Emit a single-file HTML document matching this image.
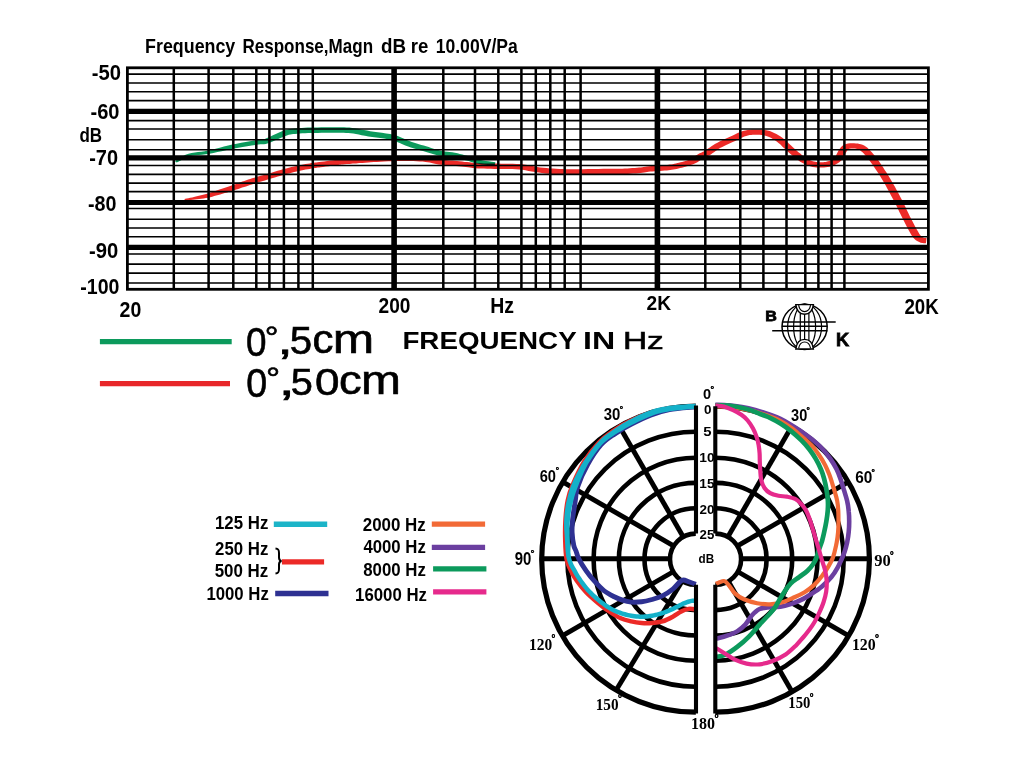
<!DOCTYPE html>
<html lang="en"><head><meta charset="utf-8"><title>Frequency Response and Polar Pattern</title>
<style>
html,body{margin:0;padding:0;background:#fff;}
body{width:1024px;height:769px;overflow:hidden;}
svg{display:block;}
text{font-family:"Liberation Sans",sans-serif;fill:#000;}
.b{font-weight:bold;}
.serif{font-family:"Liberation Serif",serif;}
</style></head><body>
<svg width="1024" height="769" viewBox="0 0 1024 769">
<rect x="0" y="0" width="1024" height="769" fill="#fff"/>
<g transform="scale(1.50,1)">
<path d="M117.8 162.6L118.8 161.8L120.1 160.7L121.6 159.4L123.3 158.1L125.0 157.0L126.7 156.1L128.5 155.5L130.4 155.2L132.5 154.9L134.7 154.7L137.1 154.3L139.6 153.8L142.3 153.0L145.0 152.1L147.8 151.2L150.6 150.2L153.3 149.2L156.1 148.4L158.9 147.7L161.8 146.9L164.8 146.2L167.7 145.6L170.2 145.0L172.3 144.5L173.6 144.3L174.4 144.3L175.0 144.3L176.0 144.2L177.2 143.9L178.7 143.2L180.6 142.2L182.8 140.8L185.1 139.2L187.4 137.7L189.5 136.4L191.2 135.4L192.5 134.8L193.6 134.4L194.5 134.2L195.5 134.0L196.7 133.9L198.2 133.7L199.8 133.5L201.5 133.3L203.4 133.2L205.4 133.1L207.5 133.0L209.6 132.9L211.9 132.9L214.3 132.8L216.8 132.8L219.3 132.7L221.7 132.7L223.8 132.7L225.8 132.8L227.5 132.8L229.1 132.8L230.7 132.9L232.2 133.1L233.9 133.3L235.6 133.6L237.3 134.1L239.2 134.6L241.1 135.2L243.3 135.8L245.6 136.4L248.1 137.0L250.8 137.5L253.5 138.0L256.1 138.6L258.6 139.2L260.8 140.0L262.8 140.8L264.7 141.9L266.5 143.1L268.3 144.3L270.2 145.5L272.1 146.6L273.9 147.5L275.6 148.3L277.3 149.0L278.9 149.7L280.4 150.4L282.0 151.1L283.6 151.8L285.2 152.5L286.9 153.3L288.6 154.1L290.3 154.8L292.1 155.4L293.9 155.8L295.7 156.2L297.4 156.4L299.0 156.6L300.6 156.9L302.1 157.2L303.5 157.7L305.1 158.2L306.6 158.8L308.2 159.3L309.7 160.0L311.1 160.5L312.5 161.1L313.7 161.7L315.0 162.3L316.4 162.9L317.8 163.5L319.4 164.0L321.2 164.4L323.2 164.8L325.2 165.1L327.0 165.3L328.6 165.5L329.7 165.7L330.3 162.3L329.2 162.1L327.6 161.7L325.8 161.3L323.9 160.9L322.1 160.5L320.6 160.0L319.3 159.5L318.1 159.0L316.9 158.4L315.6 157.8L314.3 157.1L312.9 156.5L311.4 155.8L309.8 155.2L308.3 154.6L306.6 153.9L305.0 153.3L303.3 152.8L301.5 152.3L299.8 152.0L298.2 151.7L296.6 151.4L295.1 151.0L293.6 150.6L292.1 150.1L290.6 149.4L289.0 148.7L287.4 147.9L285.8 147.1L284.1 146.3L282.5 145.6L280.9 144.9L279.3 144.3L277.8 143.6L276.2 142.8L274.6 142.0L272.9 141.1L271.2 139.9L269.4 138.7L267.4 137.4L265.2 136.1L262.8 135.0L260.1 134.1L257.4 133.4L254.6 132.8L251.8 132.2L249.2 131.7L246.8 131.2L244.7 130.6L242.7 130.0L240.7 129.4L238.8 128.8L236.8 128.3L234.8 127.9L232.9 127.6L231.1 127.4L229.4 127.3L227.6 127.3L225.9 127.3L223.9 127.3L221.7 127.2L219.3 127.2L216.7 127.3L214.2 127.3L211.7 127.4L209.4 127.5L207.3 127.5L205.2 127.6L203.1 127.8L201.1 127.9L199.2 128.1L197.4 128.3L195.9 128.5L194.6 128.8L193.3 129.0L192.0 129.4L190.5 130.0L188.8 130.8L186.8 132.0L184.6 133.5L182.3 135.1L180.0 136.7L178.0 138.0L176.5 139.0L175.5 139.4L175.1 139.6L174.9 139.6L174.2 139.6L173.0 139.7L171.3 140.1L169.2 140.6L166.6 141.3L163.8 142.0L160.8 142.8L157.8 143.7L154.9 144.6L152.1 145.6L149.3 146.6L146.5 147.7L143.8 148.8L141.2 149.8L138.8 150.6L136.5 151.2L134.2 151.7L132.0 152.0L129.9 152.4L127.7 152.9L125.7 153.7L123.7 154.8L121.8 156.2L120.1 157.6L118.6 159.0L117.4 160.2L116.5 161.0Z" fill="#0c9a5c" stroke="none"/>
<path d="M123.2 200.2L123.9 200.2L124.8 200.1L126.0 200.0L127.2 199.9L128.6 199.8L129.9 199.6L131.3 199.3L132.7 199.1L134.2 198.8L135.7 198.4L137.3 198.1L138.8 197.7L140.2 197.2L141.5 196.7L142.8 196.1L144.1 195.6L145.5 195.0L146.8 194.4L148.3 193.7L149.9 193.1L151.5 192.4L153.0 191.6L154.6 190.9L156.1 190.2L157.5 189.6L158.9 188.9L160.2 188.3L161.4 187.6L162.7 187.0L164.0 186.4L165.3 185.7L166.6 185.0L167.9 184.4L169.2 183.7L170.4 183.1L171.7 182.5L172.9 181.9L174.1 181.4L175.3 180.9L176.6 180.4L178.0 179.8L179.5 179.1L181.3 178.3L183.2 177.5L185.2 176.6L187.2 175.7L189.2 174.8L191.0 174.1L192.7 173.4L194.4 172.7L196.1 172.1L197.7 171.6L199.3 171.0L200.8 170.5L202.3 170.1L203.7 169.6L205.1 169.2L206.4 168.9L207.7 168.6L208.9 168.3L209.8 168.0L210.5 167.9L211.2 167.7L211.8 167.6L212.7 167.4L213.8 167.2L215.3 166.9L217.1 166.6L219.1 166.2L221.0 165.8L222.8 165.5L224.3 165.2L225.5 165.0L226.3 164.8L227.0 164.7L227.6 164.6L228.5 164.5L229.7 164.3L231.3 164.1L233.2 163.9L235.2 163.6L237.4 163.4L239.5 163.1L241.6 162.9L243.5 162.7L245.4 162.4L247.2 162.2L249.2 162.0L251.2 161.9L253.5 161.7L256.1 161.5L259.0 161.3L262.0 161.2L265.1 161.0L268.0 160.9L270.7 160.9L273.1 161.0L275.5 161.0L277.7 161.2L279.8 161.4L281.8 161.6L283.6 161.9L285.1 162.2L286.5 162.6L287.8 163.0L289.2 163.5L290.7 164.0L292.3 164.4L294.0 164.8L295.7 165.0L297.4 165.2L299.1 165.4L300.7 165.6L302.3 165.8L304.0 166.0L305.7 166.3L307.4 166.5L309.0 166.8L310.6 167.0L312.0 167.3L313.2 167.5L314.1 167.7L315.0 167.9L316.0 168.1L317.2 168.2L318.7 168.4L320.6 168.5L322.6 168.6L324.8 168.7L327.2 168.8L329.5 168.9L331.9 169.0L334.2 169.1L336.7 169.1L339.2 169.1L341.6 169.1L343.9 169.3L346.1 169.5L348.2 169.8L350.3 170.3L352.4 170.9L354.6 171.5L356.8 172.1L359.1 172.6L361.3 173.0L363.6 173.4L365.8 173.7L368.0 174.0L370.2 174.2L372.5 174.4L374.6 174.5L376.7 174.6L378.7 174.7L380.9 174.7L383.2 174.7L385.8 174.7L388.8 174.6L392.2 174.5L395.7 174.4L399.2 174.3L402.5 174.2L405.3 174.1L407.7 174.1L409.7 174.1L411.6 174.1L413.3 174.1L415.0 174.1L416.8 174.0L418.6 173.9L420.4 173.8L422.2 173.6L423.9 173.4L425.5 173.3L427.0 173.1L428.3 172.8L429.5 172.5L430.5 172.3L431.4 172.0L432.3 171.8L433.4 171.6L434.8 171.4L436.4 171.3L438.1 171.1L439.9 171.0L441.6 170.8L443.1 170.6L444.5 170.4L445.7 170.2L446.8 170.0L447.8 169.8L448.9 169.5L450.0 169.2L451.1 168.9L452.3 168.5L453.4 168.1L454.6 167.7L455.7 167.2L456.9 166.7L458.0 166.2L459.2 165.7L460.4 165.1L461.6 164.5L462.8 163.8L463.9 163.0L464.9 162.2L465.9 161.3L466.6 160.5L467.3 159.7L468.0 159.0L468.6 158.4L469.3 157.8L470.1 157.3L470.9 156.7L471.8 156.0L472.8 155.3L473.9 154.4L474.9 153.3L476.0 152.2L477.1 151.0L478.1 149.9L479.2 148.8L480.3 147.8L481.5 146.9L482.8 145.9L484.1 145.0L485.6 144.0L487.0 143.0L488.5 142.0L490.1 140.9L491.7 139.7L493.2 138.5L494.8 137.5L496.2 136.6L497.4 135.9L498.6 135.5L499.7 135.1L500.7 134.9L501.8 134.8L502.9 134.8L504.1 134.8L505.4 134.8L506.5 134.8L507.7 134.9L508.8 135.1L509.8 135.4L510.8 135.9L511.9 136.5L513.1 137.2L514.2 138.1L515.4 139.2L516.6 140.3L517.8 141.6L519.0 143.0L520.3 144.6L521.5 146.4L522.8 148.3L524.2 150.2L525.5 152.0L526.8 153.7L528.2 155.5L529.5 157.2L530.9 158.8L532.2 160.3L533.5 161.7L534.8 162.8L536.0 163.8L537.2 164.6L538.3 165.4L539.5 165.9L540.7 166.5L541.9 166.9L543.2 167.2L544.5 167.4L545.7 167.6L546.9 167.6L548.1 167.5L549.3 167.4L550.5 167.3L551.8 167.0L553.0 166.7L554.2 166.2L555.4 165.6L556.5 164.9L557.6 164.1L558.5 163.3L559.5 162.3L560.3 161.2L561.2 159.9L561.9 158.5L562.5 156.9L563.1 155.3L563.5 153.8L564.0 152.5L564.4 151.5L564.8 150.6L565.2 149.9L565.5 149.4L565.7 149.1L565.9 149.0L566.1 148.8L566.6 148.7L567.3 148.6L568.2 148.5L569.1 148.5L570.0 148.6L570.7 148.8L571.4 149.0L572.0 149.1L572.3 149.3L572.7 149.6L573.2 150.1L573.9 150.9L574.8 152.0L575.7 153.3L576.7 154.9L577.7 156.8L578.8 158.8L579.9 161.0L581.1 163.4L582.3 166.1L583.6 169.0L585.0 172.0L586.3 175.1L587.6 178.3L588.9 181.6L590.3 185.1L591.6 188.7L592.9 192.3L594.2 195.9L595.4 199.3L596.6 202.5L597.6 205.7L598.6 208.8L599.6 211.9L600.6 215.0L601.6 218.0L602.7 221.2L603.8 224.5L604.9 227.7L606.0 230.8L607.0 233.6L608.0 235.9L608.9 237.7L609.7 239.1L610.6 240.2L611.4 241.0L612.1 241.5L612.8 242.1L613.8 242.7L614.9 243.1L615.9 243.2L616.7 243.2L617.1 243.2L617.3 243.2L617.7 238.0L617.2 237.9L616.7 237.9L616.4 237.9L616.2 237.9L616.1 237.9L615.9 237.7L615.4 237.4L614.9 237.0L614.5 236.6L614.1 236.1L613.5 235.2L612.8 233.7L612.0 231.6L611.0 229.0L609.9 226.0L608.8 222.8L607.7 219.5L606.6 216.4L605.6 213.3L604.6 210.3L603.7 207.2L602.6 204.1L601.6 200.8L600.4 197.5L599.2 194.1L597.9 190.5L596.6 186.8L595.2 183.2L593.9 179.7L592.5 176.3L591.2 173.1L589.8 169.9L588.5 166.8L587.2 163.9L585.9 161.1L584.6 158.6L583.5 156.3L582.3 154.2L581.2 152.3L580.1 150.5L579.1 148.9L578.1 147.5L577.1 146.4L576.1 145.5L575.0 144.7L573.9 144.2L572.9 143.9L571.9 143.6L570.7 143.4L569.4 143.2L568.0 143.2L566.7 143.3L565.3 143.5L564.0 144.0L562.8 144.6L561.9 145.5L561.1 146.4L560.6 147.3L560.1 148.2L559.6 149.3L559.0 150.6L558.5 152.1L558.0 153.6L557.5 155.1L557.1 156.3L556.6 157.3L556.0 158.1L555.5 158.8L554.8 159.5L554.2 160.0L553.5 160.6L552.8 161.0L552.1 161.3L551.4 161.6L550.5 161.9L549.6 162.1L548.7 162.2L547.8 162.3L546.9 162.3L546.0 162.3L545.1 162.2L544.3 162.0L543.5 161.8L542.6 161.5L541.8 161.2L540.9 160.7L540.1 160.2L539.2 159.6L538.3 158.8L537.3 157.9L536.1 156.8L534.9 155.4L533.7 153.8L532.3 152.2L531.0 150.5L529.7 148.8L528.4 147.1L527.2 145.3L525.9 143.4L524.5 141.5L523.2 139.7L521.8 138.0L520.4 136.6L519.0 135.2L517.6 134.0L516.1 132.9L514.7 132.0L513.2 131.1L511.6 130.5L510.0 130.0L508.5 129.7L507.0 129.5L505.5 129.5L504.1 129.4L502.8 129.5L501.4 129.5L499.9 129.7L498.4 130.0L496.9 130.4L495.2 131.1L493.5 132.0L491.8 133.0L490.2 134.2L488.5 135.4L487.0 136.6L485.5 137.6L484.0 138.6L482.6 139.6L481.1 140.6L479.7 141.6L478.3 142.7L476.9 143.8L475.6 145.0L474.3 146.2L473.2 147.4L472.1 148.6L471.2 149.6L470.3 150.4L469.4 151.2L468.6 151.8L467.8 152.4L466.9 153.0L466.1 153.6L465.1 154.4L464.2 155.3L463.4 156.1L462.7 156.9L462.1 157.6L461.4 158.2L460.8 158.8L460.0 159.3L459.0 159.8L458.0 160.4L456.9 160.9L455.8 161.4L454.7 161.9L453.7 162.3L452.6 162.7L451.6 163.1L450.6 163.5L449.6 163.8L448.5 164.2L447.6 164.4L446.6 164.6L445.7 164.8L444.7 165.0L443.7 165.2L442.5 165.4L441.1 165.5L439.4 165.7L437.7 165.8L435.9 165.9L434.2 166.0L432.6 166.2L431.2 166.4L430.1 166.7L429.1 166.9L428.2 167.2L427.2 167.4L426.1 167.5L424.7 167.7L423.2 167.9L421.6 168.1L420.0 168.3L418.2 168.5L416.5 168.6L414.9 168.7L413.3 168.7L411.6 168.7L409.7 168.7L407.6 168.7L405.2 168.7L402.3 168.8L399.0 168.9L395.5 169.0L392.0 169.1L388.6 169.2L385.7 169.3L383.2 169.3L380.9 169.3L378.8 169.3L376.9 169.2L374.9 169.1L372.9 169.0L370.7 168.8L368.6 168.6L366.5 168.4L364.4 168.1L362.2 167.7L360.1 167.4L358.1 166.9L356.0 166.3L353.9 165.7L351.6 165.1L349.3 164.5L346.8 164.1L344.3 163.9L341.8 163.7L339.2 163.7L336.7 163.7L334.3 163.7L332.0 163.6L329.7 163.5L327.3 163.5L325.0 163.4L322.8 163.4L320.8 163.3L319.1 163.2L317.8 163.1L316.8 163.0L315.9 162.9L315.1 162.7L314.0 162.5L312.8 162.3L311.4 162.1L309.8 161.9L308.1 161.6L306.4 161.3L304.7 161.1L303.0 160.8L301.3 160.6L299.6 160.4L298.0 160.2L296.4 160.0L294.8 159.8L293.4 159.6L292.1 159.2L290.8 158.8L289.5 158.3L288.0 157.8L286.3 157.3L284.4 156.9L282.4 156.7L280.3 156.5L278.0 156.3L275.7 156.2L273.2 156.1L270.7 156.1L267.9 156.1L264.9 156.2L261.8 156.3L258.7 156.4L255.8 156.6L253.2 156.7L250.8 156.8L248.7 157.0L246.8 157.2L244.9 157.3L243.0 157.5L241.1 157.7L239.0 157.9L236.8 158.2L234.6 158.4L232.5 158.6L230.6 158.9L229.0 159.1L227.7 159.2L226.8 159.4L226.1 159.5L225.3 159.6L224.5 159.8L223.4 160.0L221.9 160.3L220.0 160.6L218.1 161.0L216.1 161.4L214.3 161.7L212.8 162.0L211.7 162.2L210.8 162.4L210.1 162.5L209.4 162.7L208.5 162.9L207.5 163.1L206.4 163.4L205.1 163.8L203.7 164.1L202.2 164.5L200.7 165.0L199.2 165.5L197.6 166.0L196.0 166.5L194.3 167.1L192.6 167.8L190.8 168.4L189.0 169.1L187.1 169.9L185.1 170.8L183.0 171.7L181.0 172.7L179.1 173.5L177.4 174.3L175.9 174.9L174.5 175.5L173.3 176.0L172.0 176.6L170.8 177.1L169.5 177.7L168.1 178.3L166.8 179.0L165.5 179.6L164.2 180.3L162.9 181.0L161.6 181.6L160.3 182.3L159.0 183.0L157.8 183.7L156.5 184.4L155.2 185.1L153.9 185.8L152.5 186.5L151.0 187.2L149.4 188.0L147.9 188.8L146.3 189.5L144.9 190.2L143.5 190.9L142.2 191.6L141.0 192.2L139.8 192.8L138.6 193.4L137.4 193.9L136.1 194.5L134.7 195.1L133.3 195.6L131.9 196.1L130.5 196.6L129.3 197.0L128.1 197.4L126.8 197.8L125.6 198.2L124.5 198.5L123.6 198.8L123.0 199.0Z" fill="#ec2a27" stroke="none" style="mix-blend-mode:multiply"/>
</g>
<g id="grid" stroke="#000" fill="none" shape-rendering="auto">
<path d="M127.4 74.10H928.4M127.4 83.00H928.4M127.4 91.70H928.4M127.4 100.60H928.4M127.4 120.60H928.4M127.4 129.00H928.4M127.4 139.70H928.4M127.4 149.80H928.4M127.4 165.50H928.4M127.4 174.40H928.4M127.4 183.10H928.4M127.4 191.60H928.4M127.4 208.50H928.4M127.4 219.20H928.4M127.4 228.00H928.4M127.4 236.70H928.4M127.4 254.00H928.4M127.4 264.10H928.4M127.4 273.10H928.4M127.4 283.00H928.4" stroke-width="1.6"/>
<path d="M127.4 111.40H928.4M127.4 157.80H928.4M127.4 202.50H928.4M127.4 247.30H928.4" stroke-width="5.2"/>
<path d="M173.80 67.8V289.3M208.60 67.8V289.3M233.30 67.8V289.3M256.30 67.8V289.3M269.40 67.8V289.3M283.90 67.8V289.3M298.40 67.8V289.3M312.80 67.8V289.3M443.30 67.8V289.3M475.00 67.8V289.3M498.30 67.8V289.3M521.40 67.8V289.3M535.80 67.8V289.3M550.30 67.8V289.3M564.70 67.8V289.3M580.60 67.8V289.3M705.30 67.8V289.3M740.30 67.8V289.3M763.40 67.8V289.3M786.50 67.8V289.3M805.30 67.8V289.3M818.40 67.8V289.3M831.60 67.8V289.3M844.40 67.8V289.3" stroke-width="2.5"/>
<path d="M394.10 67.8V289.3M657.40 67.8V289.3" stroke-width="5.6"/>
<rect x="127.4" y="67.8" width="801.0" height="221.5" stroke-width="2.8"/>
</g>
<path d="M99.9 341.6H231.7" stroke="#0c9a5c" stroke-width="5.4"/>
<path d="M99.9 383.7H230" stroke="#e8272a" stroke-width="5.2"/>
<g id="bk" stroke="#000" fill="none" stroke-width="1.2">
<circle cx="804.6" cy="326.8" r="22.6" stroke-width="1.5"/>
<ellipse cx="804.6" cy="326.8" rx="17.0" ry="22.6"/>
<ellipse cx="804.6" cy="326.8" rx="11.0" ry="22.6"/>
<path d="M800.3 311.8V341.8M804.6 311.8V341.8M808.9 311.8V341.8"/>
<path d="M782 321.9H835.7M782 326.3H827.3M772.2 330.7H827.3" stroke-width="1.5"/>
<path d="M795.8 304.6H813.4C812.6 310.8 809.5 314.2 804.6 314.2C799.7 314.2 796.6 310.8 795.8 304.6Z" fill="#fff" stroke-width="1.4"/>
<path d="M798.6 305.2C799.4 309.6 801.4 311.6 804.6 311.6C807.8 311.6 809.8 309.6 810.6 305.2" stroke-width="1.2"/>
<path d="M795.8 349.0H813.4C812.6 342.8 809.5 339.4 804.6 339.4C799.7 339.4 796.6 342.8 795.8 349.0Z" fill="#fff" stroke-width="1.4"/>
<path d="M798.6 348.4C799.4 344 801.4 342 804.6 342C807.8 342 809.8 344 810.6 348.4" stroke-width="1.2"/>
</g>
<g id="polar" stroke="#000" fill="none" stroke-width="4.9">
<path d="M695.8 533.6A25.8 25.6 0 0 0 695.8 584.8" stroke-width="4.6"/>
<path d="M715.3 533.6A25.8 25.6 0 0 1 715.3 584.8" stroke-width="4.6"/>
<path d="M695.8 508.3A51.3 50.9 0 0 0 695.8 610.1" stroke-width="4.6"/>
<path d="M715.3 508.3A51.3 50.9 0 0 1 715.3 610.1" stroke-width="4.6"/>
<path d="M695.8 482.9A76.9 76.3 0 0 0 695.8 635.5" stroke-width="4.6"/>
<path d="M715.3 482.9A76.9 76.3 0 0 1 715.3 635.5" stroke-width="4.6"/>
<path d="M695.8 457.7A102.2 101.5 0 0 0 695.8 660.7" stroke-width="4.6"/>
<path d="M715.3 457.7A102.2 101.5 0 0 1 715.3 660.7" stroke-width="4.6"/>
<path d="M695.8 431.7A128.4 127.5 0 0 0 695.8 686.7" stroke-width="4.6"/>
<path d="M715.3 431.7A128.4 127.5 0 0 1 715.3 686.7" stroke-width="4.6"/>
<path d="M695.8 406.2A154.1 153.0 0 0 0 695.8 712.2" stroke-width="5.2"/>
<path d="M715.3 406.2A154.1 153.0 0 0 1 715.3 712.2" stroke-width="5.2"/>
<path d="M541.7 558.7H670.2M740.9 558.7H869.4" stroke-width="5.0"/>
<path d="M683.0 536.5L619.2 426.0"/>
<path d="M728.1 536.5L791.9 426.0"/>
<path d="M673.6 545.9L563.1 482.1"/>
<path d="M737.5 545.9L848.0 482.1"/>
<path d="M673.6 571.5L563.1 635.3"/>
<path d="M737.5 571.5L848.0 635.3"/>
<path d="M682.5 580.6L616.4 689.7"/>
<path d="M728.1 580.9L791.9 691.4"/>
</g>
<g fill="none" stroke-linejoin="round">
<path d="M695.8 406.2C691.4 406.6 676.9 407.2 669.3 408.3C661.6 409.4 656.5 410.8 649.9 413.0C643.2 415.1 635.5 418.3 629.4 421.3C623.2 424.3 617.9 427.6 612.9 431.1C607.9 434.6 604.0 437.2 599.2 442.3C594.4 447.4 588.5 454.7 584.1 461.6C579.8 468.5 575.8 477.4 573.1 483.8C570.3 490.2 569.0 494.1 567.8 500.1C566.5 506.0 565.9 513.0 565.5 519.5C565.1 526.0 565.0 532.5 565.2 539.0C565.4 545.5 565.5 553.1 566.5 558.5C567.5 563.9 569.5 567.8 571.3 571.5C573.0 575.2 574.6 577.6 577.0 581.0C579.4 584.4 582.7 588.6 585.9 592.0C589.1 595.4 592.5 598.3 596.3 601.5C600.1 604.7 604.4 608.2 608.5 611.0C612.6 613.8 617.0 616.6 620.8 618.3C624.6 620.0 627.7 620.6 631.2 621.4C634.7 622.2 638.1 622.7 641.6 623.0C645.1 623.3 648.5 623.3 652.0 623.0C655.5 622.7 658.9 622.4 662.4 621.4C665.9 620.4 669.7 618.4 672.8 616.7C675.9 615.1 678.6 612.8 681.2 611.5C683.8 610.2 686.0 609.3 688.4 608.9C690.8 608.5 694.6 609.2 695.8 609.3" stroke="#ec2a27" stroke-width="4.5"/>
<path d="M695.8 406.7C691.4 407.2 677.0 408.1 669.5 409.5C661.9 410.9 657.0 412.6 650.5 415.1C644.1 417.5 636.8 421.2 630.9 424.4C624.9 427.5 619.7 430.5 614.8 433.9C609.8 437.3 605.7 439.6 601.1 444.7C596.6 449.8 591.5 457.6 587.6 464.6C583.7 471.6 579.7 480.7 577.7 486.6C575.6 492.5 576.2 494.5 575.4 500.0C574.6 505.5 573.1 514.1 572.6 519.5C572.1 524.9 571.9 528.2 572.1 532.5C572.3 536.8 573.1 542.4 573.8 545.5C574.4 548.6 575.2 548.8 576.0 551.0C576.8 553.2 577.1 555.5 578.8 558.8C580.5 562.1 583.6 567.1 586.2 570.8C588.8 574.5 591.5 577.9 594.5 581.2C597.5 584.5 600.6 588.0 603.9 590.6C607.2 593.2 611.2 595.2 614.3 596.8C617.4 598.4 619.7 599.3 622.5 600.2C625.3 601.1 628.0 601.8 631.2 602.1C634.4 602.4 638.1 602.2 641.6 601.8C645.1 601.4 648.5 600.5 652.0 599.5C655.5 598.5 658.9 597.6 662.4 595.9C665.9 594.2 670.0 591.3 672.8 589.1C675.6 586.9 677.4 584.1 679.1 582.6C680.8 581.1 681.5 580.1 683.2 580.0C684.9 579.9 687.4 581.3 689.5 582.0C691.6 582.7 694.8 583.9 695.8 584.3" stroke="#2e3192" stroke-width="4.9"/>
<path d="M695.6 403.7L692.7 403.9L688.5 404.1L683.6 404.4L678.4 404.8L673.3 405.2L668.9 405.7L665.2 406.4L661.8 407.0L658.5 407.8L655.4 408.6L652.3 409.6L649.0 410.7L645.6 412.0L642.1 413.5L638.6 415.1L635.1 416.7L631.8 418.4L628.6 420.0L625.7 421.7L622.8 423.3L620.1 425.0L617.4 426.7L614.8 428.4L612.3 430.2L609.8 431.9L607.5 433.5L605.2 435.2L602.9 437.1L600.6 439.2L598.3 441.7L595.7 444.5L593.2 447.6L590.6 450.9L588.0 454.4L585.6 458.0L583.3 461.5L581.1 465.1L579.0 468.9L577.0 472.7L575.1 476.5L573.3 480.2L571.8 483.7L570.5 487.0L569.5 490.1L568.6 493.1L567.8 496.0L567.1 498.9L566.4 501.8L565.8 504.7L565.4 507.5L564.9 510.4L564.6 513.2L564.4 516.2L564.2 519.2L564.1 522.3L564.1 525.5L564.2 528.7L564.4 531.9L564.6 535.2L564.8 538.5L565.0 541.9L565.2 545.4L565.4 549.1L565.7 552.6L566.1 556.1L566.8 559.2L567.6 562.1L568.6 564.6L569.7 566.9L570.9 568.9L572.0 570.8L573.0 572.7L574.0 574.5L575.0 576.2L576.0 577.8L577.0 579.3L578.0 580.9L579.2 582.5L580.4 584.2L581.7 586.0L583.1 587.8L584.6 589.6L586.1 591.4L587.7 593.1L589.3 594.8L591.0 596.5L592.8 598.1L594.6 599.7L596.5 601.3L598.3 602.8L600.1 604.2L602.0 605.6L603.9 607.0L605.9 608.4L607.8 609.6L609.7 610.8L611.6 611.8L613.5 612.7L615.4 613.5L617.2 614.2L619.0 614.8L620.8 615.4L622.5 616.0L624.2 616.5L625.8 616.9L627.5 617.3L629.1 617.6L630.8 617.9L632.6 618.2L634.3 618.4L636.1 618.7L637.9 618.8L639.8 618.9L641.6 618.9L643.4 618.9L645.2 618.8L647.0 618.7L648.8 618.5L650.6 618.2L652.4 617.9L654.2 617.6L656.0 617.2L657.7 616.8L659.5 616.3L661.3 615.8L663.1 615.2L664.9 614.6L666.7 614.0L668.5 613.2L670.2 612.5L672.0 611.7L673.7 610.9L675.6 610.1L677.4 609.1L679.2 608.2L681.0 607.3L682.6 606.5L684.1 605.8L685.5 605.2L686.7 604.7L687.9 604.2L689.0 603.9L690.0 603.5L691.0 603.3L691.9 603.1L692.8 603.0L693.7 602.9L694.6 602.9L695.3 602.9L695.9 602.8L695.7 598.4L695.2 598.4L694.4 598.4L693.5 598.4L692.4 598.5L691.2 598.7L690.0 598.9L688.8 599.2L687.6 599.6L686.4 600.0L685.1 600.5L683.8 601.0L682.3 601.6L680.7 602.4L678.9 603.3L677.2 604.2L675.4 605.1L673.6 606.0L671.9 606.9L670.2 607.6L668.4 608.4L666.7 609.1L665.1 609.8L663.4 610.4L661.7 611.0L660.0 611.5L658.3 612.0L656.7 612.4L655.0 612.8L653.3 613.2L651.6 613.5L649.9 613.8L648.2 614.0L646.6 614.2L644.9 614.3L643.3 614.4L641.6 614.5L639.9 614.4L638.3 614.3L636.6 614.2L634.9 614.0L633.2 613.7L631.6 613.5L630.0 613.2L628.4 612.9L626.9 612.5L625.4 612.1L623.8 611.7L622.2 611.2L620.5 610.6L618.8 610.0L617.1 609.3L615.4 608.6L613.6 607.8L611.9 606.8L610.2 605.8L608.4 604.6L606.5 603.4L604.7 602.0L602.9 600.7L601.1 599.2L599.3 597.8L597.6 596.3L595.8 594.8L594.1 593.2L592.5 591.6L590.9 590.1L589.5 588.4L588.0 586.7L586.6 585.0L585.3 583.3L584.0 581.6L582.8 579.9L581.7 578.3L580.7 576.8L579.8 575.4L578.9 573.9L577.9 572.3L577.0 570.5L575.9 568.6L574.8 566.7L573.7 564.8L572.8 562.8L571.9 560.6L571.2 558.2L570.8 555.4L570.4 552.2L570.2 548.7L570.0 545.2L569.9 541.6L569.8 538.2L569.7 535.0L569.7 531.7L569.6 528.6L569.7 525.5L569.8 522.5L570.0 519.5L570.2 516.7L570.6 513.9L571.0 511.3L571.5 508.6L572.0 505.9L572.7 503.2L573.4 500.4L574.1 497.7L574.9 495.0L575.8 492.2L576.9 489.3L578.1 486.2L579.4 482.8L580.9 479.1L582.5 475.4L584.2 471.6L586.0 467.9L587.9 464.3L590.0 460.9L592.3 457.4L594.7 454.0L597.1 450.7L599.5 447.7L601.8 445.0L604.1 442.8L606.2 441.0L608.4 439.3L610.5 437.8L612.9 436.2L615.3 434.6L617.8 433.0L620.4 431.4L623.0 429.9L625.7 428.3L628.5 426.8L631.4 425.3L634.5 423.7L637.8 422.1L641.1 420.4L644.4 418.9L647.8 417.4L651.0 416.2L654.1 415.1L657.0 414.1L660.0 413.3L663.0 412.6L666.2 411.9L669.7 411.3L673.9 410.7L678.8 410.2L684.0 409.7L688.8 409.3L693.0 409.0L696.0 408.7Z" fill="#14b1c9" stroke="none"/>
<path d="M715.3 404.7C717.5 404.8 724.3 404.9 728.7 405.3C733.2 405.7 737.6 406.3 742.0 407.0C746.4 407.8 750.5 408.7 755.2 409.9C759.8 411.2 765.8 413.2 770.0 414.7C774.2 416.2 776.9 417.1 780.4 418.8C783.9 420.5 787.3 422.5 790.8 424.6C794.3 426.7 797.7 428.9 801.2 431.3C804.7 433.7 808.1 436.2 811.6 439.1C815.1 442.0 818.9 445.2 822.0 448.5C825.1 451.8 828.0 455.4 830.4 458.9C832.8 462.4 834.9 465.9 836.6 469.3C838.3 472.7 839.4 475.8 840.6 479.3C841.8 482.8 842.9 486.6 844.0 490.2C845.1 493.8 846.3 497.3 847.1 500.8C847.9 504.3 848.4 507.7 848.7 511.2C849.1 514.7 849.2 518.1 849.2 521.6C849.2 525.1 849.1 528.5 848.7 532.0C848.4 535.5 847.8 539.1 847.1 542.4C846.4 545.6 845.6 548.8 844.7 551.5C843.8 554.2 843.0 556.1 841.8 558.8C840.6 561.5 839.3 564.7 837.6 567.7C835.9 570.8 834.0 574.0 831.4 577.1C828.8 580.2 825.3 583.6 822.0 586.4C818.7 589.2 815.1 591.5 811.6 593.7C808.1 596.0 804.7 598.2 801.2 599.9C797.7 601.6 794.3 603.0 790.8 604.1C787.3 605.2 783.9 606.2 780.4 606.7C776.9 607.2 773.5 606.8 770.0 607.2C766.5 607.6 762.6 607.6 759.6 609.0C756.6 610.4 754.2 612.9 751.8 615.5C749.4 618.1 747.7 622.0 745.3 624.6C742.9 627.2 740.5 629.2 737.5 631.1C734.5 633.0 730.4 634.5 727.1 635.7C723.9 636.9 720.0 637.8 718.0 638.3C716.0 638.8 715.8 638.7 715.4 638.8" stroke="#6b3fa0" stroke-width="4.6"/>
<path d="M715.3 406.4C717.5 406.5 724.2 406.6 728.6 407.0C733.0 407.4 737.4 407.9 741.7 408.7C746.1 409.5 750.4 410.4 754.7 411.6C759.0 412.7 763.2 414.1 767.4 415.6C771.5 417.1 775.8 418.7 779.7 420.7C783.6 422.7 787.2 424.9 790.8 427.5C794.4 430.1 797.7 433.0 801.2 436.0C804.7 439.0 808.7 442.3 811.6 445.4C814.5 448.5 816.6 451.4 818.9 454.7C821.2 458.0 823.5 461.9 825.2 465.2C826.9 468.5 828.2 471.7 829.3 474.5C830.4 477.3 831.0 479.4 831.8 482.0C832.6 484.6 833.4 487.1 834.3 490.2C835.2 493.3 836.5 497.3 837.2 500.8C837.9 504.3 838.1 507.7 838.3 511.2C838.5 514.7 838.5 518.1 838.5 521.6C838.5 525.1 838.4 528.5 838.1 532.0C837.8 535.5 837.3 539.1 836.7 542.4C836.1 545.7 835.3 549.1 834.6 551.8C833.9 554.5 833.5 556.3 832.4 558.8C831.3 561.3 830.0 563.7 828.3 566.6C826.6 569.5 824.4 572.9 822.0 576.0C819.6 579.1 816.6 582.7 813.7 585.4C810.8 588.1 807.7 590.3 804.6 592.2C801.5 594.1 798.6 595.4 795.0 597.0C791.4 598.6 787.4 600.8 783.2 602.0C779.0 603.2 774.4 604.1 770.0 604.3C765.6 604.5 761.3 604.0 757.0 603.2C752.7 602.4 747.7 600.9 744.0 599.3C740.3 597.7 737.4 595.7 734.9 593.4C732.4 591.1 730.8 587.6 729.1 585.6C727.4 583.6 726.1 581.7 724.5 581.1C722.9 580.5 720.9 581.8 719.5 582.3C718.1 582.8 716.6 583.6 716.0 583.9" stroke="#f26a36" stroke-width="4.2"/>
<path d="M715.4 405.5C717.6 405.5 723.7 405.1 728.9 405.7C734.1 406.3 741.0 407.5 746.6 409.0C752.2 410.5 758.3 413.3 762.2 414.8C766.1 416.3 767.0 416.4 770.0 417.8C773.0 419.2 776.9 421.3 780.4 423.5C783.9 425.7 787.3 428.0 790.8 430.8C794.3 433.6 798.1 437.1 801.2 440.2C804.3 443.3 807.1 446.4 809.5 449.5C811.9 452.6 813.9 455.6 815.8 458.9C817.7 462.2 819.6 466.0 821.0 469.3C822.4 472.6 823.2 475.2 824.1 478.7C825.0 482.1 825.9 486.3 826.5 490.0C827.1 493.7 827.7 497.3 827.9 500.8C828.1 504.3 828.0 507.7 827.7 511.2C827.4 514.7 826.9 518.1 826.3 521.6C825.7 525.1 825.0 528.5 824.2 532.0C823.4 535.5 822.6 539.3 821.6 542.4C820.6 545.5 819.4 548.3 818.5 550.8C817.6 553.3 817.4 555.3 816.5 557.5C815.6 559.7 814.7 561.8 813.2 564.0C811.7 566.2 809.9 568.6 807.5 570.8C805.1 573.0 801.9 575.0 799.1 577.1C796.3 579.2 793.2 580.9 790.8 583.3C788.4 585.7 786.5 588.8 784.6 591.6C782.7 594.4 781.0 597.3 779.4 599.9C777.8 602.5 776.8 604.9 775.2 607.2C773.6 609.5 772.6 610.6 770.0 613.5C767.4 616.4 763.1 620.8 759.6 624.6C756.1 628.4 752.9 632.6 749.2 636.3C745.5 640.0 741.4 643.7 737.5 646.7C733.6 649.7 729.0 652.9 725.8 654.5C722.5 656.1 719.7 656.1 718.0 656.5C716.3 656.9 715.8 656.8 715.4 656.8" stroke="#0c9a5c" stroke-width="4.7"/>
<path d="M715.4 405.4C716.8 405.6 720.8 405.6 723.7 406.4C726.7 407.2 730.2 408.7 733.1 410.1C736.0 411.5 739.0 413.1 741.4 414.8C743.8 416.5 745.8 418.2 747.7 420.5C749.6 422.8 751.4 425.6 752.9 428.3C754.4 431.0 755.5 433.8 756.5 436.6C757.5 439.4 758.1 442.1 758.6 444.9C759.1 447.7 759.4 450.5 759.6 453.3C759.8 456.1 759.7 458.7 759.8 461.6C759.9 464.5 760.0 467.7 760.3 470.8C760.5 473.9 760.6 477.3 761.3 480.2C762.0 483.1 763.0 485.8 764.5 488.0C766.0 490.2 767.9 491.9 770.2 493.2C772.5 494.5 775.7 495.2 778.5 495.8C781.3 496.4 784.0 496.1 786.8 496.6C789.6 497.1 792.8 497.6 795.2 498.9C797.6 500.1 799.5 502.0 801.4 504.1C803.3 506.2 805.1 508.6 806.6 511.4C808.1 514.2 809.1 517.7 810.2 520.8C811.3 523.9 812.1 527.1 813.0 530.0C813.9 532.9 814.6 535.2 815.4 538.0C816.2 540.8 817.1 543.7 818.0 546.5C818.9 549.3 819.8 552.7 820.5 555.0C821.2 557.3 821.2 557.8 822.0 560.4C822.8 563.0 824.4 567.3 825.2 570.8C826.0 574.3 826.5 577.7 826.7 581.2C826.9 584.7 826.7 588.1 826.2 591.6C825.7 595.1 824.7 598.5 823.6 602.0C822.5 605.5 820.9 609.1 819.4 612.4C817.9 615.7 816.4 618.9 814.7 621.8C813.1 624.6 811.4 627.0 809.5 629.5C807.6 632.0 805.8 634.4 803.5 637.0C801.2 639.6 799.0 642.5 796.0 645.4C793.0 648.3 789.5 651.9 785.6 654.5C781.7 657.1 776.9 659.4 772.6 661.0C768.3 662.6 763.9 663.9 759.6 664.3C755.3 664.7 750.7 664.4 746.6 663.6C742.5 662.8 738.6 661.4 734.9 659.7C731.2 658.0 727.3 654.9 724.5 653.2C721.7 651.5 719.5 650.2 718.0 649.3C716.5 648.4 715.8 648.2 715.4 648.0" stroke="#e62a8c" stroke-width="4.2"/>
</g>
<g stroke="#000" fill="none" stroke-width="4.1">
<path d="M696.0 405.6V533.6M696.0 584.8V713.6"/>
<path d="M715.3 406.2V533.6M715.3 584.8V713.6"/>
</g>
<g fill="none" stroke-width="5.2">
<path d="M273.8 524.2H327.2" stroke="#1cb4c8" stroke-width="5.6"/>
<path d="M282 561.8H324.1" stroke="#ec2a27" stroke-width="5.2"/>
<path d="M275.2 593.5H328.5" stroke="#2e3192" stroke-width="5.6"/>
<path d="M431.8 524.2H485.1" stroke="#f26a36"/>
<path d="M431.8 547.4H485.1" stroke="#6b3fa0"/>
<path d="M433.1 568.9H486.4" stroke="#0c9a5c"/>
<path d="M433.1 591.9H486.4" stroke="#e62a8c"/>
</g>
<path d="M275.5 548.5C278.5 548.8 279 550 279 553V557.5C279 559.5 279.6 560.6 281.5 561C279.6 561.4 279 562.5 279 564.5V569C279 572 278.5 573.2 275.5 573.5" fill="none" stroke="#000" stroke-width="2"/>
<g id="labels">
<text class="b"><tspan x="145.1" y="53.4" font-size="20.5" textLength="90.2" lengthAdjust="spacingAndGlyphs">Frequency</tspan> <tspan x="242.4" y="53.4" font-size="20.5" textLength="130.7" lengthAdjust="spacingAndGlyphs">Response,Magn</tspan> <tspan x="381.0" y="53.4" font-size="20.5" textLength="25.0" lengthAdjust="spacingAndGlyphs">dB</tspan> <tspan x="410.8" y="53.4" font-size="20.5" textLength="17.6" lengthAdjust="spacingAndGlyphs">re</tspan> <tspan x="435.7" y="53.4" font-size="20.5" textLength="82.1" lengthAdjust="spacingAndGlyphs">10.00V/Pa</tspan></text>
<text class="b"><tspan x="91.8" y="79.7" font-size="22.3" textLength="29.2" lengthAdjust="spacingAndGlyphs">-50</tspan></text>
<text class="b"><tspan x="90.5" y="118.5" font-size="21.9" textLength="29.0" lengthAdjust="spacingAndGlyphs">-60</tspan></text>
<text class="b"><tspan x="79.5" y="141.9" font-size="19.7" textLength="22.6" lengthAdjust="spacingAndGlyphs">dB</tspan></text>
<text class="b"><tspan x="89.2" y="165.2" font-size="21.3" textLength="28.9" lengthAdjust="spacingAndGlyphs">-70</tspan></text>
<text class="b"><tspan x="87.9" y="211.0" font-size="22.2" textLength="28.5" lengthAdjust="spacingAndGlyphs">-80</tspan></text>
<text class="b"><tspan x="89.1" y="257.7" font-size="22.2" textLength="29.3" lengthAdjust="spacingAndGlyphs">-90</tspan></text>
<text class="b"><tspan x="80.3" y="293.6" font-size="21.6" textLength="39.2" lengthAdjust="spacingAndGlyphs">-100</tspan></text>
<text class="b"><tspan x="119.6" y="316.9" font-size="22.2" textLength="21.7" lengthAdjust="spacingAndGlyphs">20</tspan></text>
<text class="b"><tspan x="378.6" y="312.7" font-size="22.3" textLength="31.9" lengthAdjust="spacingAndGlyphs">200</tspan></text>
<text class="b"><tspan x="490.3" y="312.7" font-size="22.8" textLength="23.8" lengthAdjust="spacingAndGlyphs">Hz</tspan></text>
<text class="b"><tspan x="646.6" y="309.8" font-size="21.1" textLength="24.5" lengthAdjust="spacingAndGlyphs">2K</tspan></text>
<text class="b"><tspan x="904.4" y="313.7" font-size="22.1" textLength="34.3" lengthAdjust="spacingAndGlyphs">20K</tspan></text>
<text class="b"><tspan x="402.4" y="348.5" font-size="24.2" textLength="174.3" lengthAdjust="spacingAndGlyphs">FREQUENCY</tspan> <tspan x="583.1" y="348.5" font-size="24.6" textLength="32.1" lengthAdjust="spacingAndGlyphs">IN</tspan> <tspan x="622.9" y="348.5" font-size="24.6" textLength="40.8" lengthAdjust="spacingAndGlyphs" font-weight="normal" stroke="#000" stroke-width="0.6">Hz</tspan></text>
<text stroke="#000" stroke-width="0.6"><tspan x="246.1" y="355.6" font-size="40.8" textLength="20.5" lengthAdjust="spacingAndGlyphs" font-weight="normal">0</tspan><tspan x="264.8" y="347.4" font-size="29.0" textLength="13.8" lengthAdjust="spacingAndGlyphs" font-weight="normal">°</tspan><tspan x="277.3" y="354.0" font-size="38.0" textLength="15.6" lengthAdjust="spacingAndGlyphs" font-weight="normal">,</tspan><tspan x="289.7" y="354.0" font-size="38.5" textLength="22.4" lengthAdjust="spacingAndGlyphs" font-weight="normal">5</tspan><tspan x="312.4" y="353.4" font-size="40.0" textLength="20.9" lengthAdjust="spacingAndGlyphs" font-weight="normal">c</tspan><tspan x="332.8" y="353.4" font-size="40.0" textLength="41.4" lengthAdjust="spacingAndGlyphs" font-weight="normal">m</tspan></text>
<text stroke="#000" stroke-width="0.6"><tspan x="246.3" y="396.6" font-size="40.4" textLength="20.9" lengthAdjust="spacingAndGlyphs" font-weight="normal">0</tspan><tspan x="266.0" y="388.4" font-size="29.0" textLength="14.1" lengthAdjust="spacingAndGlyphs" font-weight="normal">°</tspan><tspan x="278.5" y="394.6" font-size="38.0" textLength="16.4" lengthAdjust="spacingAndGlyphs" font-weight="normal">,</tspan><tspan x="290.7" y="394.6" font-size="37.6" textLength="22.1" lengthAdjust="spacingAndGlyphs" font-weight="normal">5</tspan><tspan x="314.9" y="394.8" font-size="37.4" textLength="24.5" lengthAdjust="spacingAndGlyphs" font-weight="normal">0</tspan><tspan x="338.9" y="394.4" font-size="40.0" textLength="22.6" lengthAdjust="spacingAndGlyphs" font-weight="normal">c</tspan><tspan x="361.0" y="394.4" font-size="40.0" textLength="39.9" lengthAdjust="spacingAndGlyphs" font-weight="normal">m</tspan></text>
<text class="b" stroke="#000" stroke-width="0.8"><tspan x="765.2" y="320.9" font-size="15.1" textLength="11.6" lengthAdjust="spacingAndGlyphs">B</tspan></text>
<text class="b" stroke="#000" stroke-width="0.8"><tspan x="835.9" y="345.9" font-size="18.5" textLength="13.2" lengthAdjust="spacingAndGlyphs">K</tspan></text>
<text class="b"><tspan x="703.1" y="399.4" font-size="14.0" textLength="8.1" lengthAdjust="spacingAndGlyphs">0</tspan><tspan x="710.6" y="391.9" font-size="9.5" textLength="3.7" lengthAdjust="spacingAndGlyphs" stroke="#000" stroke-width="0.5">°</tspan></text>
<text class="b"><tspan x="704.0" y="413.9" font-size="13.5" textLength="7.5" lengthAdjust="spacingAndGlyphs">0</tspan></text>
<text class="b"><tspan x="703.2" y="435.7" font-size="13.5" textLength="8.3" lengthAdjust="spacingAndGlyphs">5</tspan></text>
<text class="b"><tspan x="699.3" y="461.8" font-size="13.5" textLength="15.4" lengthAdjust="spacingAndGlyphs">10</tspan></text>
<text class="b"><tspan x="699.3" y="487.6" font-size="13.5" textLength="15.2" lengthAdjust="spacingAndGlyphs">15</tspan></text>
<text class="b"><tspan x="699.6" y="513.7" font-size="13.5" textLength="15.0" lengthAdjust="spacingAndGlyphs">20</tspan></text>
<text class="b"><tspan x="699.6" y="538.7" font-size="13.5" textLength="14.8" lengthAdjust="spacingAndGlyphs">25</tspan></text>
<text class="b"><tspan x="698.5" y="562.6" font-size="13.0" textLength="15.6" lengthAdjust="spacingAndGlyphs">dB</tspan></text>
<text class="b"><tspan x="603.7" y="420.3" font-size="17.0" textLength="16.6" lengthAdjust="spacingAndGlyphs">30</tspan><tspan x="619.8" y="411.6" font-size="9.5" textLength="3.4" lengthAdjust="spacingAndGlyphs" stroke="#000" stroke-width="0.5">°</tspan></text>
<text class="b"><tspan x="539.7" y="481.5" font-size="17.3" textLength="16.3" lengthAdjust="spacingAndGlyphs">60</tspan><tspan x="555.8" y="472.5" font-size="9.5" textLength="3.4" lengthAdjust="spacingAndGlyphs" stroke="#000" stroke-width="0.5">°</tspan></text>
<text class="b"><tspan x="791.1" y="421.1" font-size="16.8" textLength="16.2" lengthAdjust="spacingAndGlyphs">30</tspan><tspan x="806.6" y="412.8" font-size="9.5" textLength="3.4" lengthAdjust="spacingAndGlyphs" stroke="#000" stroke-width="0.5">°</tspan></text>
<text class="b"><tspan x="855.2" y="483.1" font-size="16.8" textLength="17.1" lengthAdjust="spacingAndGlyphs">60</tspan><tspan x="871.6" y="474.8" font-size="9.5" textLength="3.4" lengthAdjust="spacingAndGlyphs" stroke="#000" stroke-width="0.5">°</tspan></text>
<text class="b"><tspan x="514.7" y="565.2" font-size="17.5" textLength="16.6" lengthAdjust="spacingAndGlyphs">90</tspan><tspan x="530.8" y="556.3" font-size="9.5" textLength="3.6" lengthAdjust="spacingAndGlyphs" stroke="#000" stroke-width="0.5">°</tspan></text>
<text class="b serif"><tspan x="874.2" y="565.9" font-size="16.8" textLength="16.5" lengthAdjust="spacingAndGlyphs">90</tspan><tspan x="890.0" y="558.6" font-size="9.5" textLength="3.7" lengthAdjust="spacingAndGlyphs" stroke="#000" stroke-width="0.5">°</tspan></text>
<text class="b serif"><tspan x="529.0" y="649.7" font-size="17.6" textLength="23.2" lengthAdjust="spacingAndGlyphs">120</tspan><tspan x="551.5" y="642.0" font-size="9.5" textLength="3.8" lengthAdjust="spacingAndGlyphs" stroke="#000" stroke-width="0.5">°</tspan></text>
<text class="b serif"><tspan x="851.9" y="649.7" font-size="16.8" textLength="23.8" lengthAdjust="spacingAndGlyphs">120</tspan><tspan x="875.1" y="642.3" font-size="9.5" textLength="4.0" lengthAdjust="spacingAndGlyphs" stroke="#000" stroke-width="0.5">°</tspan></text>
<text class="b serif"><tspan x="595.7" y="709.5" font-size="16.8" textLength="22.8" lengthAdjust="spacingAndGlyphs">150</tspan><tspan x="618.1" y="701.9" font-size="9.5" textLength="4.0" lengthAdjust="spacingAndGlyphs" stroke="#000" stroke-width="0.5">°</tspan></text>
<text class="b serif"><tspan x="788.3" y="707.9" font-size="16.8" textLength="22.0" lengthAdjust="spacingAndGlyphs">150</tspan><tspan x="809.8" y="700.5" font-size="9.5" textLength="3.8" lengthAdjust="spacingAndGlyphs" stroke="#000" stroke-width="0.5">°</tspan></text>
<text class="b serif"><tspan x="691.1" y="729.2" font-size="16.7" textLength="24.0" lengthAdjust="spacingAndGlyphs">180</tspan><tspan x="714.5" y="722.1" font-size="9.5" textLength="4.2" lengthAdjust="spacingAndGlyphs" stroke="#000" stroke-width="0.5">°</tspan></text>
<text class="b"><tspan x="215.0" y="529.3" font-size="18.4" textLength="53.3" lengthAdjust="spacingAndGlyphs">125 Hz</tspan></text>
<text class="b"><tspan x="215.1" y="554.5" font-size="18.4" textLength="53.2" lengthAdjust="spacingAndGlyphs">250 Hz</tspan></text>
<text class="b"><tspan x="214.7" y="577.2" font-size="18.4" textLength="53.6" lengthAdjust="spacingAndGlyphs">500 Hz</tspan></text>
<text class="b"><tspan x="206.4" y="600.3" font-size="18.4" textLength="62.4" lengthAdjust="spacingAndGlyphs">1000 Hz</tspan></text>
<text class="b"><tspan x="362.8" y="530.8" font-size="18.4" textLength="63.0" lengthAdjust="spacingAndGlyphs">2000 Hz</tspan></text>
<text class="b"><tspan x="363.4" y="552.5" font-size="18.4" textLength="62.4" lengthAdjust="spacingAndGlyphs">4000 Hz</tspan></text>
<text class="b"><tspan x="363.2" y="575.7" font-size="18.4" textLength="62.6" lengthAdjust="spacingAndGlyphs">8000 Hz</tspan></text>
<text class="b"><tspan x="355.1" y="600.5" font-size="18.4" textLength="71.9" lengthAdjust="spacingAndGlyphs">16000 Hz</tspan></text>
</g>
</svg>
</body></html>
